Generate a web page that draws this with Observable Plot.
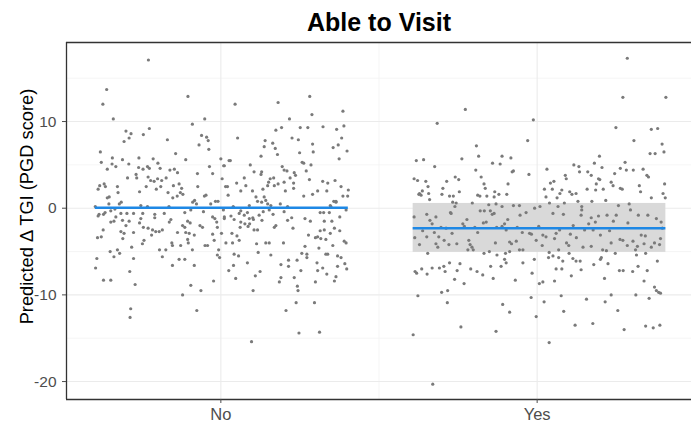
<!DOCTYPE html>
<html><head><meta charset="utf-8">
<script src="https://cdn.jsdelivr.net/npm/d3@7"></script>
<script src="https://cdn.jsdelivr.net/npm/@observablehq/plot@0.6"></script>
<style>body{margin:0;background:#fff;} svg{display:block;}</style>
</head><body><div id="chart"></div>
<script>
const title = "Able to Visit";
const yLabel = "Predicted \u0394 TGI (PGD score)";
const categories = ["No", "Yes"];
const yTicks = [-20, -10, 0, 10];
const yMinorTicks = [-15, -5, 5, 15];

// [jitter offset from category, predicted value]
const noPoints = [
[-0.229,17.1],[-0.361,13.7],[-0.373,12.0],[-0.34,10.3],[-0.30,8.9],[-0.284,8.6],[-0.29,8.1],[-0.306,7.7],[-0.245,8.5],[-0.226,9.2],[-0.381,6.5],[-0.378,5.3],[-0.343,5.8],[-0.359,4.5],[-0.344,5.1],[-0.332,4.8],[-0.311,5.6],[-0.291,5.1],[-0.259,5.8],[-0.26,4.7],[-0.246,4.5],[-0.232,4.8],[-0.226,4.6],[-0.214,5.7],[-0.199,5.2],[-0.192,4.6],[-0.169,7.9],[-0.143,6.3],[-0.161,4.4],[-0.147,4.5],[-0.137,4.1],[-0.111,5.6],[-0.104,12.9],[-0.09,9.7],[-0.051,10.3],[-0.061,8.4],[-0.045,8.2],[-0.04,7.8],[-0.069,7.3],[-0.038,6.8],[-0.036,4.8],[-0.026,4.0],[-0.074,4.0],[0,5.7],[0.009,4.9],[0.004,3.4],[0.026,5.5],[0.021,2.5],[-0.295,3.5],[-0.266,3.5],[-0.257,1.9],[-0.236,2.5],[-0.268,3.9],[-0.23,3.6],[-0.222,3.2],[-0.211,3.1],[-0.2,3.4],[-0.187,3.2],[-0.173,3.5],[-0.204,2.2],[-0.19,2.5],[-0.167,1.8],[-0.15,2.6],[-0.132,2.8],[-0.124,2.3],[-0.138,1.4],[-0.152,1.2],[-0.12,1.6],[-0.128,1.8],[-0.083,0.9],[-0.077,0.5],[-0.089,0.7],[-0.073,2.5],[-0.052,1.4],[-0.047,1.5],[-0.032,0.5],[-0.017,0.8],[-0.009,0.8],[0.015,2.5],[0.023,1.5],[-0.388,2.2],[-0.383,2.6],[-0.369,2.8],[-0.365,2.5],[-0.353,1.3],[-0.359,1.2],[-0.327,2.5],[-0.325,1.8],[-0.354,0.5],[-0.321,0.5],[-0.315,0.7],[-0.397,0.2],[-0.253,0.3],[-0.232,0.2],[-0.164,0.2],[-0.114,-0.5],[-0.095,-0.2],[-0.385,-0.7],[-0.366,-0.5],[-0.348,-0.3],[-0.335,-0.1],[-0.316,-0.6],[-0.297,-0.6],[-0.276,-0.6],[-0.247,-0.6],[-0.209,-0.7],[-0.179,-0.6],[-0.055,-0.4],[-0.026,-1.0],
[0.045,12.0],[0.053,8.1],[0.181,12.2],[0.281,12.9],[0.288,10.8],[0.217,10.3],[0.174,9.0],[0.192,9.3],[0.251,9.3],[0.275,9.3],[0.323,9.4],[0.366,9.1],[0.386,11.2],[0.389,9.5],[0.382,8.1],[0.355,7.0],[0.371,7.3],[0.399,6.6],[0.374,5.7],[0.225,8.1],[0.245,7.9],[0.29,7.4],[0.292,6.5],[0.249,6.4],[0.14,7.8],[0.137,7.1],[0.164,7.5],[0.172,6.9],[0.179,6.2],[0.127,6.0],[0.03,5.5],[0.011,4.9],[0.093,5.0],[0.105,4.2],[0.129,4.2],[0.127,3.9],[0.194,4.8],[0.2,4.4],[0.209,4.3],[0.232,4.1],[0.236,3.8],[0.257,5.3],[0.262,5.2],[0.285,5.0],[0.27,4.3],[0.219,3.5],[0.28,3.3],[0.156,3.4],[0.167,3.5],[0.151,3.0],[0.074,3.5],[0.079,2.6],[0.05,2.9],[0.063,2.0],[0.1,2.0],[0.111,1.3],[0.133,2.2],[0.148,2.6],[0.169,2.6],[0.181,2.8],[0.2,3.0],[0.23,2.9],[0.23,2.3],[0.204,2.0],[0.262,1.4],[0.29,1.6],[0.306,2.0],[0.322,3.1],[0.338,2.9],[0.335,2.0],[0.361,3.2],[0.38,2.5],[0.403,2.1],[0.386,1.4],[0.401,1.4],[0.357,0.8],[0.364,0.8],[0.137,1.3],[0.142,0.9],[0.148,0.5],[0.158,0.3],[0.129,0.7],[0.116,0.8],[0.09,0.3],[0.039,0.2],[0.188,0.5],[0.211,0.2],[0.346,0.3],[0.011,-1.0],[0.032,-0.9],[0.063,-0.3],[0.074,-0.8],[0.101,-1.1],[0.121,-0.8],[0.2,-0.4],[0.266,-1.2],[0.314,-0.5],[0.325,-0.5],[0.343,-0.5],[0.376,-1.0],
[-0.388,-0.9],[-0.371,-0.7],[-0.39,-3.4],[-0.378,-3.3],[-0.372,-2.5],[-0.392,-5.8],[-0.396,-6.9],[-0.371,-8.3],[-0.348,-8.3],[-0.35,-5.0],[-0.338,-5.6],[-0.327,-4.8],[-0.32,-5.2],[-0.348,-1.6],[-0.338,-1.5],[-0.332,-1.0],[-0.316,-2.7],[-0.306,-2.9],[-0.31,-3.5],[-0.311,-1.4],[-0.3,-2.0],[-0.29,-1.5],[-0.276,-2.8],[-0.282,-4.5],[-0.276,-5.8],[-0.288,-7.3],[-0.271,-8.8],[-0.285,-11.6],[-0.287,-12.6],[-0.253,-1.2],[-0.257,-1.7],[-0.245,-2.2],[-0.23,-2.3],[-0.243,-3.7],[-0.248,-4.1],[-0.216,-2.5],[-0.209,-1.1],[-0.219,-3.1],[-0.206,-2.7],[-0.195,-2.7],[-0.185,-2.5],[-0.163,-1.6],[-0.158,-1.3],[-0.194,-4.8],[-0.174,-4.8],[-0.185,-5.6],[-0.153,-4.3],[-0.155,-4.0],[-0.153,-6.6],[-0.137,-2.8],[-0.132,-5.9],[-0.121,-10.0],[-0.127,-4.3],[-0.121,-2.0],[-0.114,-2.2],[-0.111,-2.8],[-0.114,-5.9],[-0.105,-1.5],[-0.097,-1.7],[-0.1,-2.9],[-0.105,-3.6],[-0.103,-4.0],[-0.09,-4.8],[-0.084,-6.6],[-0.095,-8.9],[-0.063,-9.5],[-0.076,-11.8],[-0.084,-3.1],[-0.066,-2.0],[-0.058,-2.2],[-0.05,-4.3],[-0.042,-4.3],[-0.019,-1.2],[-0.013,-1.6],[-0.011,-2.2],[-0.026,-3.0],[-0.021,-3.7],[-0.007,-4.8],[-0.011,-5.4],[-0.004,-5.7],[-0.023,-8.4],[0.002,-2.9],[0.011,-1.2],[0.016,-4.0],[0.025,-7.2],[0.008,-0.2],
[0.042,-1.3],[0.04,0.1],[0.058,-0.6],[0.084,-0.5],[0.09,-1.2],[0.103,-1.3],[0.063,-1.6],[0.076,-1.8],[0.086,-2.1],[0.091,-1.8],[0.13,-1.4],[0.134,-0.4],[0.165,-0.7],[0.153,-0.2],[0.174,-2.0],[0.169,-2.2],[0.105,-2.5],[0.116,-2.5],[0.061,-2.2],[0.035,-2.9],[0.051,-3.2],[0.058,-3.7],[0.037,-4.0],[0.113,-4.1],[0.142,-4.0],[0.153,-4.0],[0.198,-4.0],[0.042,-5.3],[0.056,-5.5],[0.118,-5.1],[0.158,-5.4],[0.084,-6.3],[0.04,-6.6],[0.047,-8.1],[0.124,-7.3],[0.109,-7.8],[0.102,-9.5],[0.19,-6.5],[0.214,-6.0],[0.214,-6.7],[0.241,-6.0],[0.253,-7.2],[0.19,-8.0],[0.185,-8.5],[0.232,-8.0],[0.242,-9.0],[0.244,-9.5],[0.238,-10.9],[0.206,-11.8],[0.296,-10.9],[0.247,-14.4],[0.312,-14.3],[0.097,-15.4],[0.211,-1.4],[0.224,-1.1],[0.228,-2.3],[0.283,-1.5],[0.277,-3.1],[0.266,-4.4],[0.256,-5.2],[0.272,-5.3],[0.272,-5.7],[0.299,-3.4],[0.306,-3.3],[0.316,-3.5],[0.332,-3.6],[0.31,-4.6],[0.314,-2.6],[0.327,-2.5],[0.346,-2.9],[0.327,-1.5],[0.351,-1.5],[0.359,-2.3],[0.376,-2.6],[0.354,-4.3],[0.39,-3.8],[0.396,-4.0],[0.338,-5.3],[0.332,-5.3],[0.369,-5.5],[0.38,-5.7],[0.304,-6.3],[0.306,-7.2],[0.322,-6.9],[0.369,-6.7],[0.392,-6.4],[0.398,-7.0],[0.335,-7.6],[0.364,-7.9],[0.359,-8.4],[0.299,-8.5],[0.348,0.2],[0.364,0.7],[0.396,-0.2]
];

const yesPoints = [
[-0.227,11.4],[-0.316,9.8],[-0.012,10.2],[-0.03,7.8],[-0.192,7.2],[-0.185,6.0],[-0.238,5.7],[-0.382,5.5],[-0.359,5.6],[-0.324,4.8],[-0.141,5.2],[-0.117,5.1],[-0.111,6.0],[-0.083,5.8],[-0.194,4.4],[-0.079,4.2],[-0.075,4.3],[-0.026,3.9],[-0.177,3.6],[-0.259,3.6],[-0.248,3.3],[-0.286,3.1],[-0.389,3.4],[-0.378,3.2],[-0.352,3.1],[-0.345,2.5],[-0.298,2.3],[-0.168,2.8],[-0.164,2.3],[-0.092,2.8],[-0.134,1.9],[-0.121,1.6],[-0.136,1.3],[-0.096,1.6],[-0.159,1.4],[-0.188,1.5],[-0.181,1.4],[-0.246,1.9],[-0.277,1.4],[-0.265,1.4],[-0.301,1.6],[-0.363,2.0],[-0.372,1.7],[-0.367,1.5],[-0.343,1.7],[-0.34,1.0],[-0.374,1.6],[-0.267,0.7],[-0.256,0.6],[-0.205,0.6],[-0.26,0.2],[-0.153,0.4],[-0.075,0.3],[-0.056,0.3],[-0.008,0.0],[0.009,0.2],[0.023,2.2],[0.031,4.5],[-0.389,-1.0],[-0.349,-0.7],[-0.32,-1.0],[-0.274,-0.5],[-0.272,-0.6],[-0.222,-1.3],[-0.18,-0.3],[-0.167,-0.3],[-0.148,-0.3],[-0.142,-0.7],[-0.136,-0.6],[-0.093,-1.3],[-0.054,-0.8],[-0.035,-0.5],
[-0.339,-1.4],[-0.332,-1.8],[-0.362,-2.6],[-0.387,-3.4],[-0.372,-4.2],[-0.349,-3.3],[-0.346,-5.2],[-0.325,-2.8],[-0.311,-3.3],[-0.32,-4.1],[-0.314,-4.5],[-0.304,-2.2],[-0.288,-2.3],[-0.294,-3.7],[-0.279,-4.2],[-0.269,-2.9],[-0.254,-4.1],[-0.235,-1.8],[-0.23,-2.1],[-0.216,-3.7],[-0.212,-4.2],[-0.219,-4.8],[-0.206,-4.5],[-0.202,-4.8],[-0.197,-2.2],[-0.188,-2.8],[-0.17,-1.7],[-0.161,-1.6],[-0.168,-5.2],[-0.151,-5.0],[-0.132,-4.0],[-0.128,-2.2],[-0.127,-5.4],[-0.111,-2.1],[-0.103,-1.8],[-0.098,-2.5],[-0.087,-3.9],[-0.081,-4.1],[-0.1,-5.2],[-0.087,-5.0],[-0.063,-2.2],[-0.047,-2.8],[-0.066,-3.8],[-0.056,-4.8],[-0.045,-4.8],[-0.024,-2.9],[-0.018,-3.0],[-0.003,-3.7],[0.005,-2.1],[0.018,-3.1],[-0.13,0.5],[-0.111,0.2],[-0.386,-7.3],[-0.381,-7.5],[-0.365,-7.0],[-0.348,-7.6],[-0.332,-6.9],[-0.309,-6.9],[-0.295,-6.7],[-0.291,-7.3],[-0.277,-6.3],[-0.253,-7.2],[-0.244,-6.4],[-0.261,-8.2],[-0.231,-8.7],[-0.21,-7.0],[-0.19,-7.3],[-0.172,-7.7],[-0.147,-6.7],[-0.139,-8.1],[-0.114,-6.7],[-0.098,-6.3],[-0.103,-5.9],[-0.069,-8.3],[-0.045,-6.3],[-0.016,-7.5],[-0.009,-5.9],[0.007,-8.7],[0.018,-8.5],[-0.019,-10.3],[-0.377,-10.1],[-0.302,-9.7],[-0.283,-9.5],[-0.284,-10.9],[-0.109,-11.1],[-0.087,-12.0],[-0.003,-12.5],[0.022,-10.8],[-0.241,-13.7],[-0.13,-14.2],[-0.392,-14.6],[-0.33,-20.3],
[0.285,17.3],[0.271,12.8],[0.407,12.8],[0.249,9.3],[0.361,9.1],[0.381,9.2],[0.306,7.8],[0.395,7.4],[0.357,6.3],[0.373,6.3],[0.401,6.5],[0.197,6.0],[0.181,5.2],[0.278,5.3],[0.263,4.6],[0.282,4.4],[0.304,4.4],[0.335,4.5],[0.347,3.8],[0.352,3.6],[0.205,4.7],[0.245,4.0],[0.234,3.0],[0.24,2.6],[0.263,2.3],[0.269,2.2],[0.194,3.4],[0.198,3.3],[0.187,2.8],[0.209,2.2],[0.185,2.1],[0.171,3.8],[0.16,4.2],[0.116,5.0],[0.132,4.8],[0.134,4.2],[0.089,3.8],[0.092,3.4],[0.053,3.1],[0.042,2.9],[0.048,2.2],[0.078,2.1],[0.072,1.7],[0.103,1.9],[0.11,1.6],[0.123,1.7],[0.158,2.2],[0.129,0.8],[0.173,0.8],[0.217,0.9],[0.028,1.3],[0.063,1.2],[0.086,0.6],[0.039,0.6],[0.323,2.6],[0.327,1.9],[0.403,2.8],[0.398,1.7],[0.405,1.2],[0.361,1.2],[0.257,0.3],[0.291,0.5],[0.295,-0.2],[0.141,0.2],[0.139,-0.8],[0.05,-0.6],[0.083,-0.7],[0.171,-1.1],[0.194,-0.9],[0.221,-0.8],[0.25,-0.8],[0.32,-0.8],[0.35,-0.8],[0.377,-1.2],
[0.066,0.2],[0.141,-0.2],[0.184,-1.6],[0.241,-1.5],[0.287,-1.7],[0.392,-1.6],[0.114,-2.0],[0.163,-1.8],[0.2,-3.1],[0.229,-2.6],[0.177,-2.5],[0.15,-2.5],[0.071,-2.5],[0.06,-2.9],[0.028,-3.3],[0.055,-3.5],[0.105,-3.0],[0.124,-3.4],[0.093,-4.0],[0.1,-4.3],[0.145,-4.5],[0.171,-4.4],[0.016,-4.3],[0.038,-5.1],[0.068,-4.8],[0.036,-5.7],[0.05,-5.5],[0.068,-5.7],[0.081,-6.1],[0.101,-5.2],[0.113,-5.8],[0.123,-6.1],[0.136,-6.1],[0.207,-4.8],[0.219,-4.9],[0.234,-4.0],[0.247,-5.2],[0.262,-3.6],[0.271,-3.7],[0.285,-4.3],[0.303,-3.8],[0.317,-4.4],[0.329,-3.1],[0.342,-3.2],[0.338,-4.1],[0.311,-4.8],[0.343,-5.2],[0.371,-4.0],[0.387,-4.2],[0.39,-3.5],[0.396,-2.3],[0.361,-4.5],[0.2,-5.9],[0.203,-5.7],[0.224,-6.4],[0.179,-6.5],[0.314,-5.4],[0.38,-6.1],[0.06,-7.0],[0.078,-7.0],[0.139,-7.1],[0.108,-7.8],[0.055,-8.4],[0.213,-8.1],[0.26,-7.2],[0.272,-7.2],[0.302,-7.3],[0.319,-6.7],[0.348,-7.2],[0.338,-8.4],[0.371,-9.1],[0.377,-9.5],[0.384,-9.7],[0.39,-9.8],[0.354,-10.4],[0.312,-10.0],[0.234,-10.0],[0.215,-10.8],[0.255,-11.8],[0.156,-10.5],[0.076,-10.1],[0.084,-11.9],[0.12,-13.5],[0.176,-13.3],[0.275,-14.0],[0.343,-13.6],[0.367,-13.8],[0.388,-13.5],[0.038,-15.5]
];

// fitted mean and confidence band per category
const fitValues = [0.05, -2.3];
const fitLower = [null, -5.1];
const fitUpper = [null, 0.55];

const groups = [noPoints, yesPoints];
const points = groups.flatMap((pts, i) => pts.map(([dx, y]) => ({group: categories[i], x: i + 1 + dx, y})));
const fits = categories.map((c, i) => {
  const xs = points.filter(p => p.group === c).map(p => p.x);
  return {group: c, x1: d3.min(xs), x2: d3.max(xs), fit: fitValues[i], lo: fitLower[i], hi: fitUpper[i]};
});

const xDomain = [0.512, 2.488];
const yDomain = [-22.07, 19.12];
const font = "'Liberation Sans', Arial, Helvetica, sans-serif";

const chart = Plot.plot({
  width: 691, height: 424,
  marginTop: 42, marginBottom: 25, marginLeft: 66, marginRight: 0,
  style: {fontFamily: font, background: "#fff", overflow: "visible"},
  x: {domain: xDomain, axis: null},
  y: {domain: yDomain, axis: null},
  marks: [
    Plot.ruleY(yMinorTicks, {stroke: "#f2f2f2", strokeWidth: 0.8}),
    Plot.ruleX([1.5], {stroke: "#f2f2f2", strokeWidth: 0.8}),
    Plot.ruleY(yTicks, {stroke: "#ebebeb", strokeWidth: 1.1}),
    Plot.ruleX([1, 2], {stroke: "#ebebeb", strokeWidth: 1.1}),
    Plot.rect(fits.filter(f => f.lo != null), {x1: "x1", x2: "x2", y1: "lo", y2: "hi", fill: "#d9d9d9"}),
    Plot.dot(points, {x: "x", y: "y", r: 1.6, fill: "#7a7a7a", stroke: null}),
    Plot.ruleY(fits, {y: "fit", x1: "x1", x2: "x2", stroke: "#1e88e5", strokeWidth: 2.5}),
    Plot.ruleX([xDomain[0]], {stroke: "#333", strokeWidth: 1.3}),
    Plot.ruleY([yDomain[0], yDomain[1]], {stroke: "#333", strokeWidth: 1.3}),
    Plot.axisY(yTicks, {tickSize: 4, tickPadding: 6, fontSize: 15.5, color: "#4d4d4d", tickFormat: d => String(d), label: null}),
    Plot.axisX([1, 2], {tickSize: 4, tickPadding: 5, fontSize: 16.5, color: "#4d4d4d", tickFormat: d => categories[d - 1], label: null}),
    Plot.text([title], {frameAnchor: "top", dy: -12, lineAnchor: "bottom", textAnchor: "middle", fontSize: 25, fontWeight: "bold", fill: "#000"}),
    Plot.text([yLabel], {frameAnchor: "left", rotate: -90, dx: -34, dy: -14.5, lineAnchor: "bottom", textAnchor: "middle", fontSize: 18.3, fill: "#000"})
  ]
});
document.getElementById("chart").appendChild(chart);
</script>
</body></html>
